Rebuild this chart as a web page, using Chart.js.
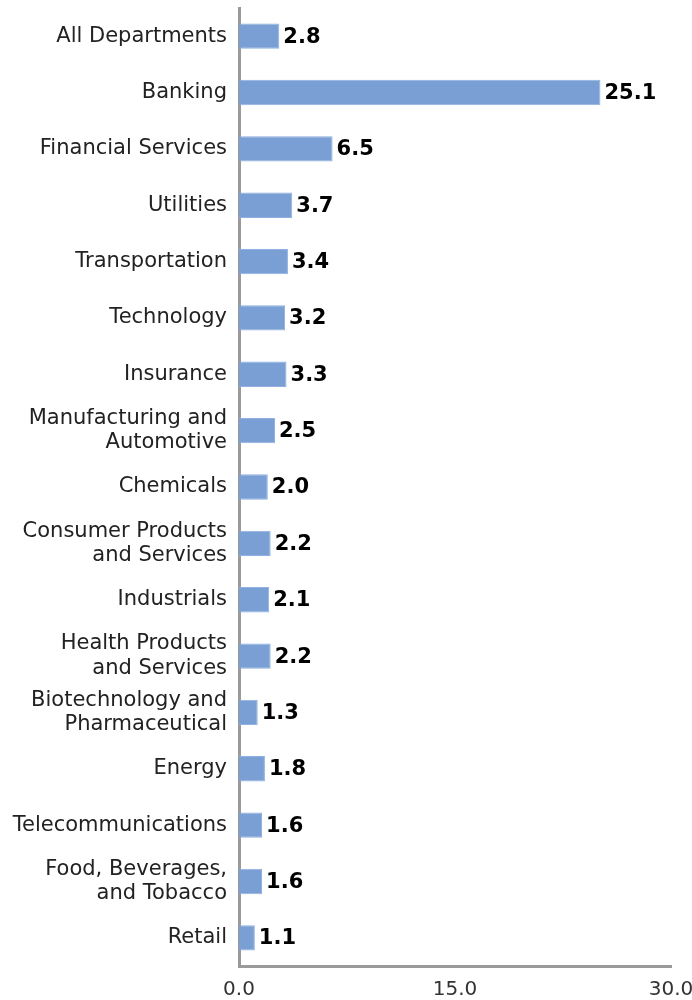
<!DOCTYPE html>
<html>
<head>
<meta charset="utf-8">
<script src="https://cdn.jsdelivr.net/npm/chart.js@4/dist/chart.umd.min.js"></script>
<style>
  html, body { margin: 0; padding: 0; background: #fff; }
  #wrap { width: 692px; height: 1000px; }
</style>
</head>
<body>
<div id="wrap"><canvas id="grafico"></canvas></div>
<script>
// categorias (eixo Y) e valores
const categorias = [
    'All Departments',
    'Banking',
    'Financial Services',
    'Utilities',
    'Transportation',
    'Technology',
    'Insurance',
    ['Manufacturing and', 'Automotive'],
    'Chemicals',
    ['Consumer Products', 'and Services'],
    'Industrials',
    ['Health Products', 'and Services'],
    ['Biotechnology and', 'Pharmaceutical'],
    'Energy',
    'Telecommunications',
    ['Food, Beverages,', 'and Tobacco'],
    'Retail'
];
const valores = [2.8, 25.1, 6.5, 3.7, 3.4, 3.2, 3.3, 2.5, 2.0, 2.2, 2.1, 2.2, 1.3, 1.8, 1.6, 1.6, 1.1];
const ticksX = [0, 15, 30];

const fonte = "'DejaVu Sans', sans-serif";

// escreve o valor na ponta de cada barra
const rotulosValor = {
    id: 'rotulosValor',
    afterDatasetsDraw(chart) {
        const ctx = chart.ctx;
        const meta = chart.getDatasetMeta(0);
        ctx.save();
        ctx.font = 'bold 21px ' + fonte;
        ctx.fillStyle = '#000';
        ctx.textBaseline = 'middle';
        ctx.textAlign = 'left';
        meta.data.forEach((bar, i) => {
            ctx.fillText(valores[i].toFixed(1), bar.x + 4, bar.y + 1);
        });
        ctx.restore();
    }
};

// sem folga automática nas pontas dos eixos
function semFolga(axis) {
    axis.paddingTop = 0;
    axis.paddingBottom = 0;
    axis.paddingLeft = 0;
    axis.paddingRight = 0;
}

new Chart(document.getElementById('grafico').getContext('2d'), {
    type: 'bar',
    data: {
        labels: categorias,
        datasets: [{
            data: valores,
            backgroundColor: '#7a9fd5',
            borderColor: '#8fb0e0',
            borderWidth: 1,
            barPercentage: 0.9,
            categoryPercentage: 0.5
        }]
    },
    options: {
        indexAxis: 'y',
        responsive: true,
        maintainAspectRatio: false,
        animation: false,
        layout: { padding: { top: 8, right: 21, bottom: 0, left: 0 } },
        scales: {
            x: {
                min: 0,
                max: 30,
                afterBuildTicks(axis) {
                    axis.ticks = ticksX.map(v => ({ value: v }));
                },
                afterFit(axis) { axis.height = 34; semFolga(axis); },
                grid: { display: false, drawTicks: false },
                border: { display: true, color: '#9a9a9a', width: 3 },
                ticks: {
                    padding: 12,
                    color: '#333',
                    font: { family: fonte, size: 20 },
                    maxRotation: 0,
                    callback: v => Number(v).toFixed(1)
                }
            },
            y: {
                afterFit(axis) { axis.width = 239; semFolga(axis); },
                grid: { display: false, drawTicks: false },
                border: { display: true, color: '#9a9a9a', width: 3 },
                ticks: {
                    padding: 12,
                    color: '#222',
                    font: { family: fonte, size: 21, lineHeight: 1.15 },
                    autoSkip: false
                }
            }
        },
        plugins: {
            legend: { display: false },
            tooltip: { enabled: false }
        }
    },
    plugins: [rotulosValor]
});
</script>
</body>
</html>
